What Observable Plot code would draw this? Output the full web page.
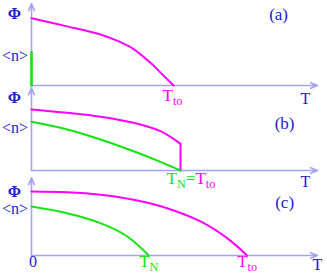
<!DOCTYPE html>
<html><head><meta charset="utf-8">
<script src="https://cdn.jsdelivr.net/npm/d3@7"></script>
<script src="https://cdn.jsdelivr.net/npm/@observablehq/plot@0.6"></script>
<style>body{margin:0;background:#fff}</style>
</head><body><div id="chart"></div>
<script>
const panels = ["a", "b", "c"];
// order parameter Φ (magenta)
const phiA_T = [0, 1.25, 2.41, 3.01, 3.57, 4.16, 4.62, 4.97];
const phiA_v = [0.83, 0.73, 0.63, 0.55, 0.45, 0.28, 0.12, 0];
const phiB_T = [0, 1.25, 2.41, 3.57, 4.51, 5.21];
const phiB_v = [0.753, 0.712, 0.664, 0.589, 0.485, 0.329];
const phiB_dropT = [5.21, 5.21];
const phiB_dropV = [0.329, 0];
const phiC_T = [0, 1.25, 2.41, 3.57, 4.74, 5.91, 6.84, 7.54];
const phiC_v = [0.79, 0.78, 0.749, 0.687, 0.584, 0.42, 0.214, 0];
// <n> (green)
const nA_T = [0, 0];
const nA_v = [0.41, 0];
const nB_T = [0, 1.25, 2.41, 3.57, 4.51, 5.21];
const nB_v = [0.601, 0.506, 0.383, 0.238, 0.107, 0];
const nC_T = [0, 1.25, 2.41, 3.35, 4.10];
const nC_v = [0.605, 0.522, 0.399, 0.235, 0];
// axes
const axisTop = [1.01, 1.02, 0.96];
const tMax = 10;
// labels
const phiLabelV = [0.89, 0.90, 0.78];
const nLabelV = [0.37, 0.53, 0.57];
const panelLabel = ["(a)", "(b)", "(c)"];
const panelLabelT = [8.64, 8.85, 8.85];
const panelLabelV = [0.88, 0.58, 0.65];
const tAxisLabelT = [9.58, 9.58, 10.0];
const tAxisLabelV = [-0.16, -0.14, -0.115];
const magTicks = [{p: "a", t: "T_{to}", T: 4.93, v: -0.13, a: "middle"},
                  {p: "b", t: "T_{to}", T: 5.73, v: -0.10, a: "start"},
                  {p: "c", t: "T_{to}", T: 7.54, v: -0.075, a: "middle"}];
const greenTicks = [{p: "b", t: "T_{N}=", T: 5.73, v: -0.10, a: "end"},
                    {p: "c", t: "T_{N}", T: 4.10, v: -0.075, a: "middle"}];
const zeroLabel = {p: "c", t: "0", T: 0.05, v: -0.08};

const MAG = "#ff00ff", GRN = "#11e611", BLUE = "#2020cc", AX = "#a4a4f2";
const rows = (p, T, v) => T.map((t, i) => ({p, T: t, v: v[i]}));

const phiCurves = [...rows("a", phiA_T, phiA_v), ...rows("b", phiB_T, phiB_v), ...rows("c", phiC_T, phiC_v)];
const nCurves = [...rows("b", nB_T, nB_v), ...rows("c", nC_T, nC_v)];
const drops = rows("b", phiB_dropT, phiB_dropV);
const nVert = rows("a", nA_T, nA_v);
const axes = panels.map((p, i) => ({p, top: axisTop[i]}));
const sideLabels = panels.flatMap((p, i) => [
  {p, t: "Φ", v: phiLabelV[i], bold: true},
  {p, t: "<n>", v: nLabelV[i]}
]);
const pLabels = panels.map((p, i) => ({p, t: panelLabel[i], T: panelLabelT[i], v: panelLabelV[i]}));
const tLabels = panels.map((p, i) => ({p, t: "T", T: tAxisLabelT[i], v: tAxisLabelV[i]}));

const font = "Liberation Serif";
const svg = Plot.plot({
  width: 327, height: 273,
  marginLeft: 31, marginRight: 10, marginTop: 2, marginBottom: 18,
  x: {domain: [0, tMax], axis: null},
  y: {domain: [0, 1.012], axis: null},
  fy: {domain: panels, axis: null, paddingInner: 0.041, paddingOuter: 0},
  marks: [
    Plot.arrow(axes, {x1: 0, y1: 0, x2: tMax, y2: 0, fy: "p", stroke: AX, strokeWidth: 1.6, headLength: 7, headAngle: 45, bend: 0}),
    Plot.arrow(axes, {x1: 0, y1: 0, x2: 0, y2: "top", fy: "p", stroke: AX, strokeWidth: 1.6, headLength: 7, headAngle: 45, bend: 0}),
    Plot.line(phiCurves, {x: "T", y: "v", z: "p", fy: "p", stroke: MAG, strokeWidth: 2, curve: "catmull-rom"}),
    Plot.line(drops, {x: "T", y: "v", fy: "p", stroke: MAG, strokeWidth: 2}),
    Plot.line(nCurves, {x: "T", y: "v", z: "p", fy: "p", stroke: GRN, strokeWidth: 2, curve: "catmull-rom"}),
    Plot.line(nVert, {x: "T", y: "v", fy: "p", stroke: GRN, strokeWidth: 2.6}),
    Plot.text(sideLabels.filter(d => d.bold), {x: -0.6, y: "v", fy: "p", text: "t", fill: BLUE, fontFamily: font, fontSize: 16, fontWeight: "bold"}),
    Plot.text(sideLabels.filter(d => !d.bold), {x: -0.58, y: "v", fy: "p", text: "t", fill: BLUE, fontFamily: font, fontSize: 16}),
    Plot.text(pLabels, {x: "T", y: "v", fy: "p", text: "t", fill: BLUE, fontFamily: font, fontSize: 17}),
    Plot.text(tLabels, {x: "T", y: "v", fy: "p", text: "t", fill: BLUE, fontFamily: font, fontSize: 16}),
    Plot.text([zeroLabel], {x: "T", y: "v", fy: "p", text: "t", fill: BLUE, fontFamily: font, fontSize: 16}),
    ...magTicks.map(d => Plot.text([d], {x: "T", y: "v", fy: "p", text: "t", fill: MAG, fontFamily: font, fontSize: 17, textAnchor: d.a})),
    ...greenTicks.map(d => Plot.text([d], {x: "T", y: "v", fy: "p", text: "t", fill: GRN, fontFamily: font, fontSize: 17, textAnchor: d.a}))
  ]
});

// render "_{...}" as subscripts
svg.querySelectorAll("text").forEach(t => {
  const s = t.textContent;
  if (!s.includes("_{")) return;
  const parts = s.split(/(_\{[^}]*\})/).filter(x => x);
  while (t.firstChild) t.removeChild(t.firstChild);
  let down = false;
  for (const part of parts) {
    const ts = document.createElementNS("http://www.w3.org/2000/svg", "tspan");
    if (part.startsWith("_{")) {
      ts.textContent = part.slice(2, -1);
      ts.setAttribute("dy", "3.5");
      ts.style.fontSize = "72%";
      down = true;
    } else {
      ts.textContent = part;
      if (down) { ts.setAttribute("dy", "-3.5"); down = false; }
    }
    t.appendChild(ts);
  }
});
document.getElementById("chart").appendChild(svg);
</script>
</body></html>
